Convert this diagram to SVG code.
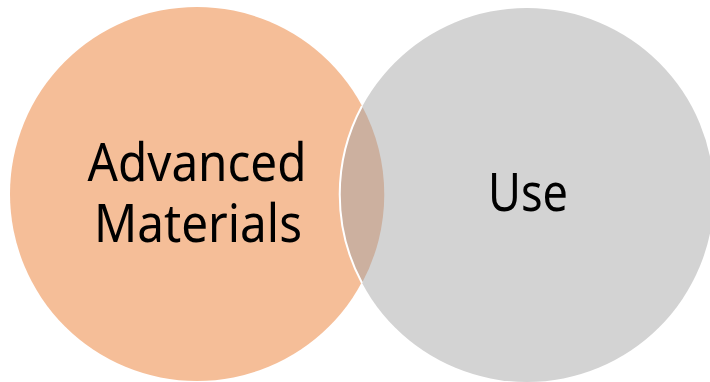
<svg xmlns="http://www.w3.org/2000/svg" width="710" height="382" viewBox="0 0 710 382">
<style>
.lbl{font-family:"Noto Sans","Open Sans","Liberation Sans",sans-serif;font-size:53px;fill:#000;text-anchor:middle}
</style>
<rect width="710" height="382" fill="#fff"/>
<g id="node-materials">
<circle cx="197" cy="194" r="187" fill="#F5BE98"/>
</g>
<g id="node-use">
<circle cx="527" cy="195" r="187" fill="#D3D3D3"/>
</g>
<g id="overlap">
<path d="M362,106 A187,187 0 0 0 362,283 A187,187 0 0 0 362,106 Z" fill="#CCB09F"/>
<path d="M362,106 A187,187 0 0 0 362,283" fill="none" stroke="#fff" stroke-width="2"/>
</g>
<g id="labels">
<text class="lbl" x="197" y="181" textLength="219" lengthAdjust="spacingAndGlyphs">Advanced</text>
<text class="lbl" x="198" y="242" textLength="208" lengthAdjust="spacingAndGlyphs">Materials</text>
<text class="lbl" x="528" y="211" textLength="80" lengthAdjust="spacingAndGlyphs">Use</text>
</g>
<g id="connectors"></g>
</svg>
